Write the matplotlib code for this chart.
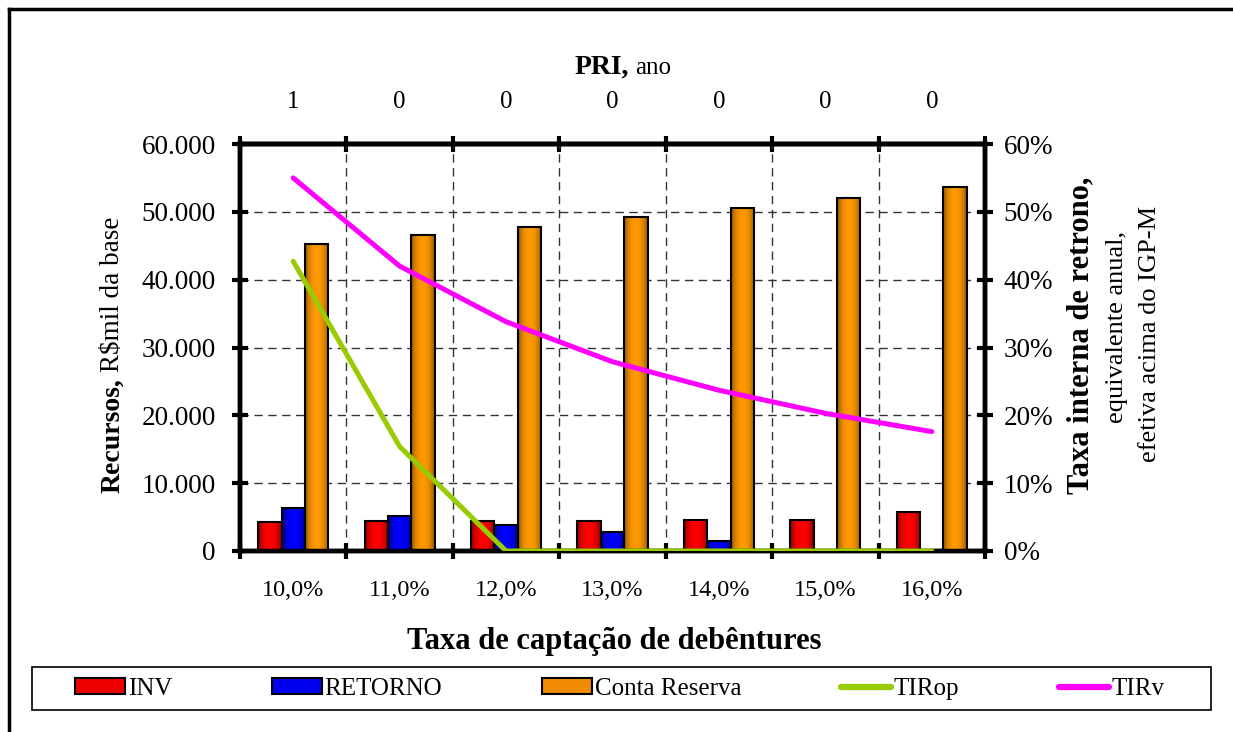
import numpy as np
import matplotlib.pyplot as plt
from matplotlib.colors import to_rgb
from matplotlib.lines import Line2D
from matplotlib.patches import Patch, Rectangle

plt.rcParams["font.family"] = "Liberation Serif"

taxas = ["10,0%", "11,0%", "12,0%", "13,0%", "14,0%", "15,0%", "16,0%"]
pri = ["1", "0", "0", "0", "0", "0", "0"]
inv = [4300, 4400, 4400, 4400, 4500, 4500, 5700]
retorno = [6300, 5100, 3800, 2800, 1500, 0, 0]
conta_reserva = [45200, 46600, 47800, 49200, 50600, 52100, 53700]
tir_op = [0.427, 0.154, 0.0, 0.0, 0.0, 0.0, 0.0]
tir_v = [0.550, 0.420, 0.338, 0.279, 0.237, 0.203, 0.176]

y_ticks = [0, 10000, 20000, 30000, 40000, 50000, 60000]
y_labels = ["0", "10.000", "20.000", "30.000", "40.000", "50.000", "60.000"]
y2_ticks = [0, 0.1, 0.2, 0.3, 0.4, 0.5, 0.6]
y2_labels = ["0%", "10%", "20%", "30%", "40%", "50%", "60%"]

W, H = 1233, 732
fig = plt.figure(figsize=(W / 100, H / 100), dpi=100)
ax = fig.add_axes([240 / W, 1 - 551 / H, 745 / W, 407 / H])


def shade(ax, bars, dark, light):
    # horizontal gradient: dark edges, bright middle
    prof = np.sin(np.linspace(0, np.pi, 64)) ** 0.6
    d, l = np.array(to_rgb(dark)), np.array(to_rgb(light))
    img = (d + (l - d) * prof[:, None])[None, :, :]
    for b in bars:
        if b.get_height() <= 0:
            continue
        x, y, w, h = b.get_x(), b.get_y(), b.get_width(), b.get_height()
        im = ax.imshow(img, extent=[x, x + w, y, y + h], aspect="auto",
                       zorder=b.get_zorder() - 0.1, interpolation="bilinear")
        im.set_clip_path(b)
        b.set_facecolor("none")


x = np.arange(len(taxas))
w = 0.22
b1 = ax.bar(x - w, inv, w, edgecolor="black", linewidth=1.5, zorder=3)
b2 = ax.bar(x, retorno, w, edgecolor="black", linewidth=1.5, zorder=3)
b3 = ax.bar(x + w, conta_reserva, w, edgecolor="black", linewidth=1.5, zorder=3)
shade(ax, b1, "#7a0000", "#ff0000")
shade(ax, b2, "#000070", "#0000ff")
shade(ax, b3, "#7a4a00", "#ff9900")

ax.set_xlim(-0.5, 6.5)
ax.set_ylim(0, 60000)
ax.set_xticks(np.arange(-0.5, 7, 1))
ax.set_xticklabels([])
ax.set_xticks(x, minor=True)
ax.set_xticklabels(taxas, minor=True, fontsize=17.5)
ax.set_yticks(y_ticks)
ax.set_yticklabels(y_labels, fontsize=19.5)
ax.tick_params(axis="x", which="major", direction="inout", length=11, width=3)
ax.tick_params(axis="x", which="minor", length=0, pad=21)
ax.tick_params(axis="y", direction="inout", length=11, width=3, pad=12)
ax.grid(True, which="major", color="#333333", linestyle=(0, (6, 4)), linewidth=1)
ax.set_axisbelow(True)
for s in ax.spines.values():
    s.set_linewidth(3.2)

top = ax.secondary_xaxis("top")
top.set_xticks(np.arange(-0.5, 7, 1))
top.set_xticklabels([])
top.set_xticks(x, minor=True)
top.set_xticklabels(pri, minor=True, fontsize=18)
top.tick_params(axis="x", which="major", direction="inout", length=11, width=3)
top.tick_params(axis="x", which="minor", length=0, pad=22)
top.spines["top"].set_linewidth(3.2)

ax2 = ax.twinx()
ax2.plot(x, tir_op, color="#99cc00", linewidth=3.6, solid_capstyle="round", zorder=4)
ax2.plot(x, tir_v, color="#ff00ff", linewidth=3.6, solid_capstyle="round", zorder=4)
ax2.set_ylim(0, 0.6)
ax2.set_yticks(y2_ticks)
ax2.set_yticklabels(y2_labels, fontsize=19.5)
ax2.tick_params(axis="y", direction="inout", length=11, width=3, pad=8)
for s in ax2.spines.values():
    s.set_linewidth(3.2)

# titles
fig.text(629 / W, 1 - 67 / H, "PRI,", fontsize=20, fontweight="bold", ha="right", va="center")
fig.text(635 / W, 1 - 68 / H, "ano", fontsize=18, ha="left", va="center")
fig.text(614 / W, 1 - 642 / H, "Taxa de captação de debêntures", fontsize=22,
         fontweight="bold", ha="center", va="center")

fig.text(119 / W, 1 - 378 / H, "Recursos,", fontsize=20, fontweight="bold", rotation=90,
         rotation_mode="anchor", ha="right", va="baseline")
fig.text(119 / W, 1 - 372 / H, "R$mil da base", fontsize=19.5, rotation=90,
         rotation_mode="anchor", ha="left", va="baseline")

fig.text(1081 / W, 1 - 335 / H, "Taxa interna de retrono,", fontsize=22, fontweight="bold",
         rotation=90, ha="center", va="center")
fig.text(1117 / W, 1 - 327 / H, "equivalente anual,", fontsize=19,
         rotation=90, ha="center", va="center")
fig.text(1150 / W, 1 - 334 / H, "efetiva acima do IGP-M", fontsize=19,
         rotation=90, ha="center", va="center")

handles = [
    Patch(facecolor="#ee0000", edgecolor="black", linewidth=1.5),
    Patch(facecolor="#0000ee", edgecolor="black", linewidth=1.5),
    Patch(facecolor="#f08a00", edgecolor="black", linewidth=1.5),
    Line2D([], [], color="#99cc00", linewidth=4.5, solid_capstyle="round"),
    Line2D([], [], color="#ff00ff", linewidth=4.5, solid_capstyle="round"),
]
labels = ["INV", "RETORNO", "Conta Reserva", "TIRop", "TIRv"]
fig.add_artist(Rectangle((32 / W, 1 - 710 / H), 1179 / W, 43 / H, transform=fig.transFigure,
                         facecolor="white", edgecolor="black", linewidth=1.2, zorder=5))
leg = fig.legend(handles, labels, ncol=5, fontsize=18, loc="center",
                 bbox_to_anchor=(620 / W, 1 - 689 / H), frameon=False,
                 handlelength=2.0, handleheight=0.6, handletextpad=0.1,
                 columnspacing=4.0, borderpad=0.2)
leg.set_zorder(6)

# outer frame (left and top edges)
fig.add_artist(Line2D([9 / W, 9 / W], [0, 1 - 9 / H], color="black", linewidth=2.5))
fig.add_artist(Line2D([9 / W, 1], [1 - 9 / H, 1 - 9 / H], color="black", linewidth=2.5))

fig.savefig("out.png", dpi=100)
